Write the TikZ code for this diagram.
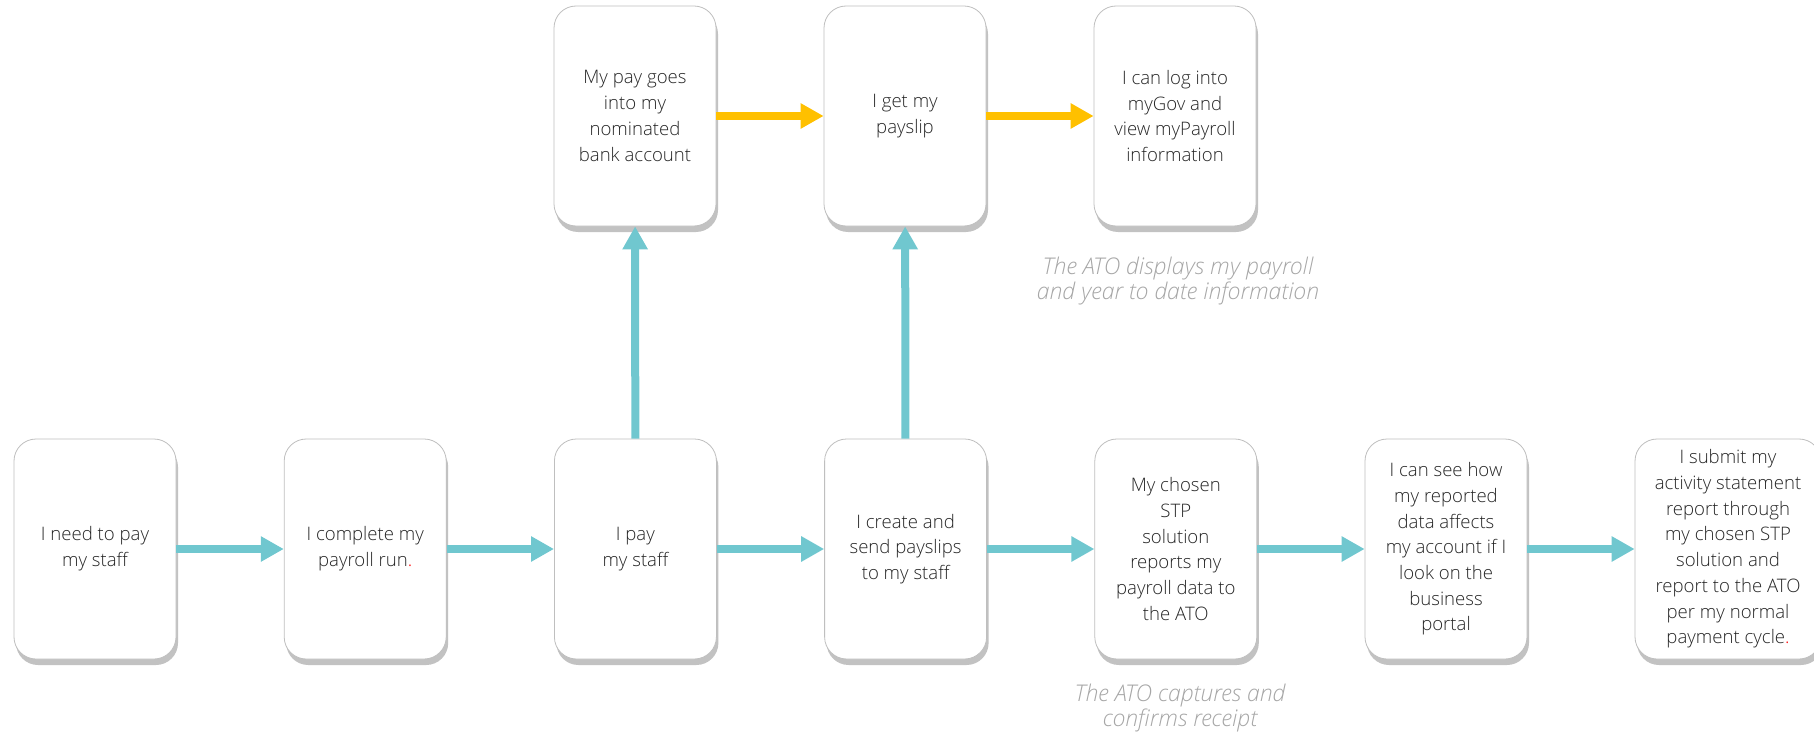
\documentclass[tikz,border=0pt]{standalone}
\usepackage{fontspec}
\IfFontExistsTF{Open Sans Light}
  {\IfFontExistsTF{Open Sans Light Italic}
     {\setmainfont{Open Sans Light}[ItalicFont={Open Sans Light Italic}]}
     {\setmainfont{Open Sans Light}}}
  {\setmainfont{Open Sans}}
\usetikzlibrary{arrows.meta,shadows}
\definecolor{stpteal}{HTML}{70C7CF}
\definecolor{stpgold}{HTML}{FFC000}
\tikzset{
  card/.style={draw=black!25, line width=0.8pt, fill=white, rounded corners=22pt,
    minimum width=162pt, minimum height=220pt, inner sep=0pt, align=center,
    font=\fontsize{18.6}{25.7}\selectfont, text=black!85,
    drop shadow={shadow xshift=2pt, shadow yshift=-6pt, fill=black!40, opacity=0.6}},
  flow/.style={stpteal, line width=8pt, -{Triangle[length=23pt,width=24pt]}},
  goldflow/.style={flow, stpgold},
  note/.style={font=\itshape\fontsize{23}{25}\selectfont, text=black!35, align=center}
}
\begin{document}
\begin{tikzpicture}[x=1pt, y=-1pt]
\useasboundingbox (0,0) rectangle (1814,738);
    \foreach \i/\txt in {1/{I need to pay\\my staff},
                         2/{I complete my\\payroll run\textcolor{red}{.}},
                         3/{I pay\\my staff},
                         4/{I create and\\send payslips\\to my staff},
                         5/{My chosen\\STP\\solution\\reports my\\payroll data to\\the ATO},
                         6/{I can see how\\my reported\\data affects\\my account if I\\look on the\\business\\portal}}
{
	\node[card] (n\i) at ({95+270.2*(\i-1)},549) {\txt};
}
\node[card, minimum width=186pt] (n7) at (1728,549)
  {I submit my\\activity statement\\report through\\my chosen STP\\solution and\\report to the ATO\\per my normal\\payment cycle\textcolor{red}{.}};

\node[card] (t3) at (635,116) {My pay goes\\into my\\nominated\\bank account};
\node[card] (t4) at (905,116) {I get my\\payslip};
\node[card] (t5) at (1175,116) {I can log into\\myGov and\\view myPayroll\\information};

    \foreach \a/\b in {1/2,2/3,3/4,4/5,5/6,6/7}
{
	\draw[flow] (n\a) -- (n\b);
}
\draw[flow] (n3) -- (t3);
\draw[flow] (n4) -- (t4);
\draw[goldflow] (t3) -- (t4);
\draw[goldflow] (t4) -- (t5);

\node[note] (shown) at (1178,281) {The ATO displays my payroll\\and year to date information};
\node[note] (receipt) at (1180,708) {The ATO captures and\\confirms receipt};
    \end{tikzpicture}
\end{document}
